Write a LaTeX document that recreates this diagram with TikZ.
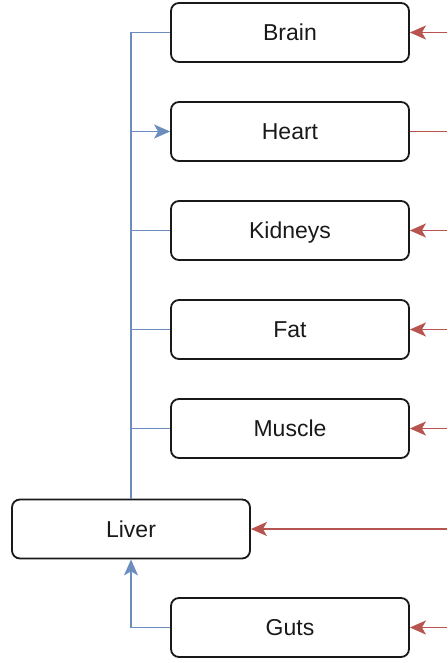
\documentclass[tikz,border=0pt]{standalone}
\usepackage{fontspec}
\setmainfont{Liberation Sans}
\usetikzlibrary{arrows.meta}
\definecolor{bl}{HTML}{6C8EBF}
\definecolor{rd}{HTML}{B85450}
\begin{document}
\begin{tikzpicture}[x=1pt,y=-1pt,
  organ/.style={draw=black!90,line width=1.8pt,rounded corners=8pt,minimum width=238pt,minimum height=59pt,inner sep=0pt,text height=16pt,text depth=0pt,font=\fontsize{23}{28}\selectfont,text=black!90},
  bline/.style={draw=bl,line width=1.8pt},
  rline/.style={draw=rd,line width=1.8pt},
  tip/.style={-{Stealth[length=16pt,width=14pt,inset=4pt]}}]
\useasboundingbox (0,0) rectangle (447,663);
\node[organ] (brain) at (290,32.5) {Brain};
\node[organ] (heart) at (290,131.5) {Heart};
\node[organ] (kidneys) at (290,230.5) {Kidneys};
\node[organ] (fat) at (290,329.5) {Fat};
\node[organ] (muscle) at (290,428.5) {Muscle};
\node[organ] (liver) at (131,529) {Liver};
\node[organ] (guts) at (290,627.5) {Guts};
% blue connectors
\draw[bline] (liver.north) |- (brain.west);
\draw[bline,tip] (liver.north) |- (heart.west);
\draw[bline] (liver.north) |- (kidneys.west);
\draw[bline] (liver.north) |- (fat.west);
\draw[bline] (liver.north) |- (muscle.west);
\draw[bline,tip] (guts.west) -| (liver.south);
% red connectors
\coordinate (rb) at (447,32.5);
\coordinate (rh) at (447,131.5);
\coordinate (rk) at (447,230.5);
\coordinate (rf) at (447,329.5);
\coordinate (rm) at (447,428.5);
\coordinate (rl) at (447,529);
\coordinate (rg) at (447,627.5);
\draw[rline,tip] (rb) -- (brain.east);
\draw[rline] (heart.east) -- (rh);
\draw[rline,tip] (rk) -- (kidneys.east);
\draw[rline,tip] (rf) -- (fat.east);
\draw[rline,tip] (rm) -- (muscle.east);
\draw[rline,tip] (rl) -- (liver.east);
\draw[rline,tip] (rg) -- (guts.east);
\end{tikzpicture}
\end{document}
